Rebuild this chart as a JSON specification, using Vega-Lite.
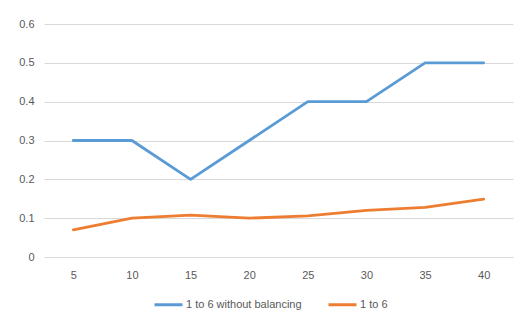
{
  "$schema": "https://vega.github.io/schema/vega-lite/v6.json",
  "autosize": "none",
  "width": 469,
  "height": 233,
  "padding": {"left": 44, "top": 24, "right": 19, "bottom": 64},
  "background": "white",
  "config": {
    "view": {"stroke": null},
    "font": "Liberation Sans",
    "axis": {"labelFont": "Liberation Sans", "labelFontSize": 11, "labelColor": "#595959", "gridColor": "#d9d9d9", "gridWidth": 1, "domainColor": "#d9d9d9", "ticks": false, "title": null}
  },
  "data": {
    "values": [
      {"x": 5, "series": "1 to 6 without balancing", "y": 0.3},
      {"x": 10, "series": "1 to 6 without balancing", "y": 0.3},
      {"x": 15, "series": "1 to 6 without balancing", "y": 0.2},
      {"x": 20, "series": "1 to 6 without balancing", "y": 0.3},
      {"x": 25, "series": "1 to 6 without balancing", "y": 0.4},
      {"x": 30, "series": "1 to 6 without balancing", "y": 0.4},
      {"x": 35, "series": "1 to 6 without balancing", "y": 0.5},
      {"x": 40, "series": "1 to 6 without balancing", "y": 0.5},
      {"x": 5, "series": "1 to 6", "y": 0.07},
      {"x": 10, "series": "1 to 6", "y": 0.1},
      {"x": 15, "series": "1 to 6", "y": 0.108},
      {"x": 20, "series": "1 to 6", "y": 0.1},
      {"x": 25, "series": "1 to 6", "y": 0.106},
      {"x": 30, "series": "1 to 6", "y": 0.12},
      {"x": 35, "series": "1 to 6", "y": 0.128},
      {"x": 40, "series": "1 to 6", "y": 0.149}
    ]
  },
  "mark": {"type": "line", "strokeWidth": 2.8, "strokeCap": "round", "strokeJoin": "round"},
  "encoding": {
    "x": {
      "field": "x", "type": "ordinal",
      "scale": {"type": "point", "padding": 0.5},
      "axis": {"labelAngle": 0, "grid": false, "domain": false, "labelPadding": 12}
    },
    "y": {
      "field": "y", "type": "quantitative",
      "scale": {"domain": [0, 0.6]},
      "axis": {"values": [0, 0.1, 0.2, 0.3, 0.4, 0.5, 0.6], "domain": false, "labelPadding": 10, "format": "~g"}
    },
    "color": {
      "field": "series", "type": "nominal",
      "scale": {"domain": ["1 to 6 without balancing", "1 to 6"], "range": ["#5B9BD5", "#ED7D31"]},
      "legend": {
        "title": null, "orient": "none", "direction": "horizontal",
        "legendX": 109, "legendY": 265,
        "symbolType": "stroke", "symbolSize": 784, "symbolStrokeWidth": 3,
        "labelFont": "Liberation Sans", "labelFontSize": 11, "labelColor": "#595959",
        "labelOffset": 2, "columnPadding": 20
      }
    }
  }
}
